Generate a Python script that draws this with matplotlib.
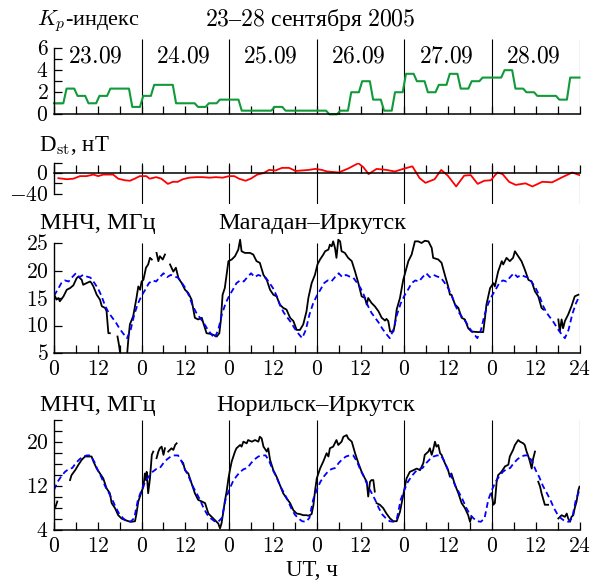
import numpy as np
import matplotlib
matplotlib.use('Agg')
import matplotlib.pyplot as plt

plt.rcParams['font.family'] = ['Liberation Serif', 'DejaVu Serif']
plt.rcParams['mathtext.fontset'] = 'cm'

# ---------------- data ----------------
days = ['23.09', '24.09', '25.09', '26.09', '27.09', '28.09']

# Kp index, 3-hour values (48)
kp = [1, 2.33, 1.67, 1, 1.67, 2.33, 2.33, 0.67,
      1.67, 2.67, 2.67, 1, 1, 0.67, 1, 1.33,
      1.33, 0.33, 0.33, 0.33, 0.67, 0.33, 0.33, 0.33,
      0.33, 0, 0.33, 2, 3, 1.33, 0.33, 2,
      3.67, 3, 2, 2.67, 3.67, 2.33, 3, 3.33,
      3.33, 4, 2.33, 2, 1.67, 1.67, 1.33, 3.33]

# Dst, nT
dst_t = [1.2, 3.5, 5.3, 7.1, 8.9, 10.8, 12.1, 13.5, 15.3, 16.2, 17.6, 19.4, 20.8, 22.1, 23.5,
         25.3, 26.2, 28.0, 29.4, 31.2, 32.6, 33.9, 35.3, 37.1, 38.9, 40.7, 42.6, 44.4, 46.2, 48.0,
         49.4, 50.7, 52.5, 53.9, 55.7, 57.5, 58.9, 60.7, 62.5, 64.4, 66.2, 68.0, 69.8, 71.6, 73.4,
         74.8, 78.0, 80.7, 83.4, 84.8, 86.2, 88.4, 91.1, 93.4, 95.7, 98.2, 100.2, 101.8, 104.3,
         106.1, 107.9, 110.2, 112.4, 114.2, 116.1, 117.9, 119.7, 121.5, 122.9, 124.7, 126.5,
         129.2, 131.1, 133.8, 136.5, 139.3, 142.0, 144.0]
dst_v = [-10, -12, -11, -6, -6, -3, -6, -3, -3, -3, -11, -14, -15, -11, -6,
         -6, -11, -8, -11, -21, -17, -17, -12, -9, -8, -8, -9, -8, -9, -6,
         -6, -11, -15, -11, -3, 0, 6, 5, 10, 10, 4, 5, 6, 8, 6,
         3, 1, 9, 19, 11, -2, 8, 6, 3, 8, 13, -10, -19, -12,
         6, -5, -26, -5, -4, -21, -15, -14, 1, -2, -17, -23,
         -20, -26, -17, -18, -8, 1, -4]

nan = np.nan
# Magadan-Irkutsk MOF, MHz (black = observed)
mag_t = [0.3, 0.7, 1.2, 1.6, 2.6, 3.5, 4.4, 5.3, 6.2, 6.7, 7.6, 8.0, 8.9, 9.9, 10.3, 10.8, 11.7,
         12.6, 13.1, 14.0, 14.4, 14.9, 15.3, 15.4,
         17.4, 17.8, 18.2, 19.0, 20.0, 20.1, 20.4, 20.8, 21.7, 22.6, 23.1, 23.6, 24.0, 24.5, 25.2,
         25.8, 26.3, 26.8, 27.0,
         28.1, 28.6, 29.0, 29.8, 30.4, 30.6,
         31.8, 32.7, 33.4, 34.1, 35.0, 35.9, 36.8, 37.7, 38.6, 39.5, 40.5, 40.9, 41.8, 42.7,
         43.7, 44.6, 45.3, 45.7, 46.2, 46.8, 47.8, 48.7, 49.6, 50.5, 51.0, 51.4, 52.3, 53.7,
         54.6, 55.5, 56.4, 57.4, 58.3, 59.2, 60.1, 61.0, 61.9, 62.8, 63.7, 64.7, 65.6, 66.5,
         67.4, 68.3, 69.2, 69.7, 70.6, 71.5, 72.2, 72.9, 73.8, 74.3, 75.2, 75.6, 76.1, 76.5,
         77.0, 77.4, 77.9, 78.4, 78.8, 79.7, 80.6, 81.6, 82.5, 83.4, 84.3, 85.2, 85.7, 86.1,
         87.0, 87.9, 88.9, 89.8, 90.7, 91.1, 91.6, 92.1, 93.0, 93.4, 93.9, 94.8, 95.7, 96.2,
         97.1, 98.0, 98.9, 99.8, 100.7, 101.6, 102.6, 103.5, 103.9, 105.3, 106.2, 107.1, 108.0,
         108.5, 108.9, 109.9, 110.8, 111.7, 112.6, 113.5, 114.4, 116.3, 117.6, 118.1, 118.5,
         119.5, 120.4, 120.8, 121.7, 122.7, 123.1, 124.0, 124.9, 125.8, 126.3, 127.2, 128.1,
         129.0, 130.0, 130.9, 131.8, 132.7, 133.6, 134.1, 134.3,
         138.2, 138.6, 139.1, 139.5, 140.0, 140.9, 141.8, 142.7, 143.7]
mag_v = [15.3, 14.7, 15.0, 14.4, 15.3, 16.5, 16.8, 17.3, 18.6, 18.9, 18.3, 17.4, 17.7, 18.0, 17.7,
         17.1, 15.6, 14.7, 13.5, 13.2, 12.6, 8.6, 8.6, nan,
         8.0, 6.5, 4.6, 3.0, 3.0, 5.3, 7.7, 10.2, 11.7, 15.0, 17.1, 16.5, 18.0, 18.3, 20.5,
         21.1, 22.3, 22.0, nan,
         23.2, 21.7, 22.6, 22.0, 22.9, nan,
         21.1, 19.8, 20.5, 18.6, 17.7, 16.5, 15.9, 14.7, 11.4, 11.1, 11.4, 10.5, 8.6, 8.5,
         8.3, 8.0, 8.6, 10.8, 15.6, 16.8, 21.7, 22.0, 22.6, 23.8, 25.6, 23.5, 23.2, 23.2,
         22.9, 21.7, 21.4, 19.2, 18.3, 16.5, 15.6, 15.3, 13.8, 13.2, 12.9, 11.4, 10.8, 9.2,
         9.2, 10.2, 12.6, 15.0, 17.7, 19.2, 21.1, 22.0, 22.9, 23.5, 23.8, 24.7, 24.4, 25.3,
         24.1, 22.3, 25.6, 25.3, 23.5, 23.2, 22.3, 21.7, 19.8, 17.7, 15.3, 15.0, 13.8, 15.0,
         14.1, 13.5, 12.6, 11.4, 10.9, 11.2, 10.8, 8.9, 8.9, 10.2, 12.9, 15.0, 18.3, 19.5,
         21.7, 22.9, 25.3, 25.3, 25.0, 25.4, 25.3, 24.1, 22.3, 22.0, 21.4, 19.2, 17.1,
         15.6, 15.6, 13.8, 13.2, 11.4, 11.1, 9.5, 8.9, 8.8, 8.8, 11.4, 13.8,
         16.8, 17.7, 17.1, 19.8, 21.7, 21.1, 22.3, 21.7, 22.3, 23.5, 22.6, 21.7,
         20.2, 18.3, 18.0, 16.2, 15.3, 13.2, 12.9, nan,
         11.1, 8.9, 11.1, 9.5, 10.8, 12.0, 13.5, 15.3, 15.6]
# Magadan-Irkutsk monthly median, hourly 0..24 UT
mag_med = [15.4, 16.5, 17.7, 18.2, 18.0, 18.8, 19.5, 18.8, 19.2, 18.9, 18.7, 17.8, 16.8,
           15.4, 13.6, 12.3, 11.4, 10.5, 9.4, 8.5, 7.7, 9.2, 12.0, 14.0, 15.4]

# Norilsk-Irkutsk MOF, MHz
nor_t = [0.3, 0.9, 1.0,
         4.4, 4.8, 5.8, 6.7, 7.6, 8.5, 9.4, 10.3, 10.8, 11.7, 12.6, 13.5, 14.4, 15.3, 15.8, 16.7,
         17.6, 18.5, 19.5, 20.4, 21.3, 22.2, 22.6, 23.1, 24.0, 24.5, 24.9, 25.2, 25.4, 25.8,
         26.3, 26.8, 27.2, 27.5,
         28.1, 28.6, 29.0, 29.5, 30.0, 30.4, 30.8,
         31.3, 32.2, 32.7, 33.2, 33.6, 34.0,
         35.0, 35.4, 35.9, 36.8, 37.7, 38.6, 39.5, 40.5, 41.4, 42.3, 43.2, 44.1, 45.0, 45.5,
         45.9, 46.4, 46.8, 47.3, 47.8, 48.2, 48.7, 49.6, 50.0, 51.0, 51.4, 51.9, 52.8, 53.2,
         54.2, 55.1, 56.0, 56.4, 56.9, 57.4, 58.3, 58.7, 59.2, 60.1, 61.0, 61.9, 62.8, 63.7,
         64.7, 65.6, 66.5, 67.4, 68.3, 69.2, 69.7, 70.6, 71.1, 71.5, 72.0, 72.9, 73.8, 74.7,
         75.2, 75.6, 76.5, 77.4, 77.9, 78.8, 79.3, 80.2, 80.6, 81.6, 82.5, 83.4, 84.3, 85.2,
         85.7, 86.1, 86.6, 87.0, 87.5, 87.9, 88.1,
         88.4, 89.3, 90.2, 91.1, 92.1, 93.0, 93.9, 94.8, 95.7, 96.2, 96.6, 97.5, 98.5, 99.4,
         100.3, 101.2, 101.6, 102.6, 103.0, 103.5, 103.9, 104.4, 104.8, 105.3, 105.8, 106.2,
         107.1, 108.0, 108.5, 108.9, 109.9, 110.8, 111.7, 112.6, 113.5, 114.0, 114.4, 115.0,
         119.9, 120.4, 120.8, 121.3, 121.7, 122.6, 123.6, 124.5, 124.9, 125.8, 126.3, 127.2,
         127.7, 128.6, 129.0, 129.5, 130.0, 130.4, 130.9, 131.3, 131.8, 132.2,
         132.7, 133.2, 133.6, 134.5, 135.4, 136.0,
         138.2, 139.1, 140.0, 140.5, 140.9, 141.4, 141.8, 142.3, 142.7, 143.2, 143.7, 144.0]
nor_v = [8.0, 9.2, nan,
         13.1, 14.0, 14.9, 15.9, 16.8, 17.4, 17.4, 17.4, 16.5, 15.2, 14.3, 13.4, 11.6, 10.7, 8.9, 8.0,
         6.7, 6.1, 5.8, 5.6, 5.5, 5.6, 7.0, 9.2, 11.0, 11.9, 14.3, 13.1, 14.6, 10.7,
         13.4, 17.7, 18.3, nan,
         17.1, 18.3, 18.9, 19.2, 17.7, 18.9, nan,
         18.3, 18.9, 18.6, 19.5, 19.8, nan,
         16.5, 16.2, 14.9, 14.3, 12.5, 10.7, 9.5, 9.2, 8.9, 7.0, 6.4, 5.8, 5.2, 4.3,
         5.2, 7.3, 9.2, 11.0, 13.4, 14.9, 16.5, 18.3, 18.9, 19.5, 19.2, 20.1, 19.8, 20.4,
         20.1, 20.4, 20.1, 21.0, 20.7, 19.2, 18.3, 18.9, 16.8, 14.9, 13.7, 12.2, 10.7, 9.8,
         8.9, 7.6, 7.0, 6.9, 6.7, 6.7, 6.6, 6.9, 8.6, 11.0, 13.4, 15.2, 16.5, 18.0,
         17.4, 18.9, 19.2, 20.4, 19.5, 20.1, 21.0, 21.3, 20.7, 20.1, 18.0, 16.2, 14.6, 13.4,
         12.8, 10.1, 12.8, 13.1, 13.1, 11.0, nan,
         8.9, 8.6, 8.0, 7.0, 6.1, 5.6, 5.6, 7.3, 10.4, 12.2, 13.4, 14.6, 14.9, 15.2,
         14.9, 16.2, 17.7, 18.3, 18.9, 17.7, 18.6, 20.1, 19.2, 19.5, 18.0, 17.7,
         16.2, 14.9, 13.7, 14.3, 12.2, 10.7, 8.9, 8.0, 6.7, 5.5, 6.4, nan,
         10.7, 8.6, 8.9, 12.8, 14.0, 14.6, 15.6, 15.9, 17.4, 18.6, 19.5, 20.4,
         20.1, 19.8, 19.5, 18.3, 17.4, 16.5, 15.2, 17.0, 18.3, nan,
         12.8, 11.9, 10.7, 8.6, 8.6, nan,
         6.1, 6.7, 6.4, 7.0, 6.1, 5.5, 6.4, 6.7, 8.0, 9.2, 11.3, 11.9]
nor_med = [11.3, 12.8, 13.8, 14.6, 15.1, 15.3, 16.2, 16.9, 17.4, 17.6, 17.6, 16.5, 14.9,
           13.6, 12.0, 10.8, 9.5, 8.0, 6.8, 6.1, 5.6, 5.5, 6.2, 9.5, 11.3]

# ---------------- figure ----------------
W, H = 590, 583
fig = plt.figure(figsize=(W / 100, H / 100), dpi=100)
FS = 15.5

def add_ax(top, bottom, left=54, right=579.5):
    return fig.add_axes([left / W, 1 - bottom / H, (right - left) / W, (bottom - top) / H])

def ftext(x, y, s, **kw):
    kw.setdefault('fontsize', FS)
    kw.setdefault('va', 'center')
    fig.text(x / W, 1 - y / H, s, **kw)

def base(ax, ylo, yhi, vtop):
    ax.set_xlim(0, 144)
    ax.set_ylim(ylo, yhi)
    for s in ['top', 'right']:
        ax.spines[s].set_visible(False)
    ax.spines['left'].set_linewidth(1.0)
    ax.spines['bottom'].set_linewidth(1.1)
    ax.set_xticks(np.arange(0, 145, 6))
    ax.tick_params(direction='in', length=5.5, width=0.9, labelsize=FS, pad=4)
    ax.tick_params(axis='x', pad=6)
    ax.vlines(np.arange(24, 145, 24), ylo, vtop, color='k', lw=0.8)
    ax.patch.set_alpha(0)

# Kp
ax1 = add_ax(39.3, 114.3)
base(ax1, 0, 6.8, 6.8)
kx, ky = [], []
for i, v in enumerate(kp):
    kx += [0 if i == 0 else 3 * i + 0.45, 144 if i == len(kp) - 1 else 3 * i + 2.55]
    ky += [v, v]
ax1.plot(kx, ky, color='#119a3a', lw=1.5, clip_on=False)
ax1.set_yticks([0, 2, 4, 6], labels=['$0$', '$2$', '$4$', '$6$'])
ax1.set_yticks([1, 3, 5], minor=True)
ax1.tick_params(axis='y', which='minor', direction='in', length=5.5, width=0.9)
ax1.spines['left'].set_bounds(0, 6)
ax1.set_xticklabels([])
for d, lab in enumerate(days):
    ax1.text(d * 24 + 11.4, 5.2, '$' + lab + '$', ha='center', va='center', fontsize=17)

# Dst
ax2 = add_ax(162.7, 204)
base(ax2, -60, 20, 20)
ax2.spines['bottom'].set_position(('data', 0))
ax2.spines['left'].set_bounds(-40, 20)
ax2.set_yticks([-40, -20, 0, 20], labels=['$-40$', '', '$0$', ''])
ax2.set_xticklabels([])
ax2.plot(dst_t, dst_v, color='#ff0000', lw=1.3)

xlabels = []
for h in range(0, 145, 6):
    if h == 144:
        xlabels.append('$24$')
    elif h % 24 == 0:
        xlabels.append('$0$')
    elif h % 24 == 12:
        xlabels.append('$12$')
    else:
        xlabels.append('')

med_t = np.arange(0, 145)

# Magadan
ax3 = add_ax(236.4, 353)
base(ax3, 5, 26.2, 25)
ax3.spines['left'].set_bounds(5, 25)
ax3.set_yticks([5, 10, 15, 20, 25], labels=['$5$', '$10$', '$15$', '$20$', '$25$'])
ax3.set_xticklabels(xlabels)
ax3.plot(mag_t, mag_v, color='k', lw=1.3)
mag_med_all = np.concatenate([np.tile(mag_med[:-1], 6), [mag_med[-1]]])
ax3.plot(med_t, mag_med_all, color='#0000ff', lw=1.3, ls=(0, (3.2, 2.0)))

# Norilsk
ax4 = add_ax(420.3, 530)
base(ax4, 4, 24, 24)
ax4.set_yticks(np.arange(4, 25, 2),
               labels=['$4$', '', '', '', '$12$', '', '', '', '$20$', '', ''])
ax4.set_xticklabels(xlabels)
ax4.plot(nor_t, nor_v, color='k', lw=1.3)
nor_med_all = np.concatenate([np.tile(nor_med[:-1], 6), [nor_med[-1]]])
ax4.plot(med_t, nor_med_all, color='#0000ff', lw=1.3, ls=(0, (3.2, 2.0)))

# texts
ftext(310, 20, '$23$–$28$ сентября $2005$', ha='center', fontsize=17.2)
ftext(37, 21, '$K_p$-индекс', ha='left', fontsize=16)
ftext(39, 146, r'D$_{\mathrm{st}}$, нТ', ha='left', fontsize=16.5)
ftext(40, 224, 'МНЧ, МГц', ha='left', fontsize=17.5)
ftext(312, 224, 'Магадан–Иркутск', ha='center', fontsize=17.5)
ftext(40, 406, 'МНЧ, МГц', ha='left', fontsize=17.5)
ftext(316, 406, 'Норильск–Иркутск', ha='center', fontsize=17.5)
ftext(312, 571, 'UT, ч', ha='center', fontsize=16.5)

fig.savefig('out.png', dpi=100)
